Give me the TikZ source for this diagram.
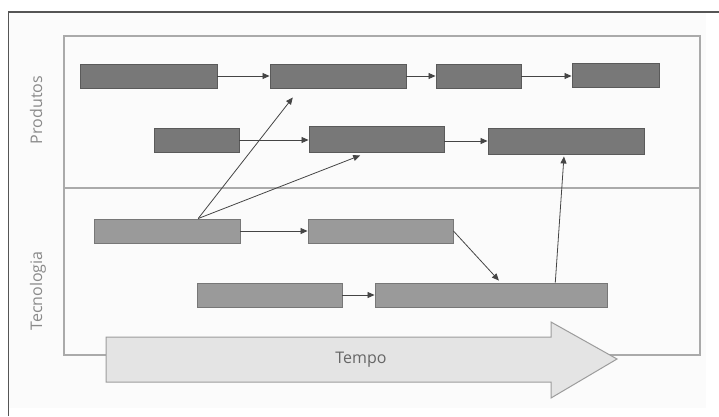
\documentclass[tikz,border=0pt]{standalone}
\usepackage{fontspec}
\setmainfont{Open Sans}
\usetikzlibrary{arrows.meta,calc}

\definecolor{framecol}{HTML}{555555}
\definecolor{panelline}{HTML}{AAAAAA}
\definecolor{panelbg}{HTML}{FBFBFB}
\definecolor{prodfill}{HTML}{787878}
\definecolor{prodline}{HTML}{5A5A5A}
\definecolor{techfill}{HTML}{9A9A9A}
\definecolor{techline}{HTML}{777777}
\definecolor{linkcol}{HTML}{454545}
\definecolor{timefill}{HTML}{E4E4E4}
\definecolor{timeline}{HTML}{9C9C9C}
\definecolor{timetext}{HTML}{666666}
\definecolor{labelcol}{HTML}{8A8A8A}

\tikzset{
  pbox/.style={rectangle, draw=prodline, fill=prodfill, line width=0.9pt,
               inner sep=0pt, minimum height=24pt},
  tbox/.style={rectangle, draw=techline, fill=techfill, line width=0.9pt,
               inner sep=0pt, minimum height=24pt},
  link/.style={draw=linkcol, line width=0.8pt,
               -{Triangle[length=7pt,width=6pt]}},
  lanelabel/.style={text=labelcol, font=\fontsize{16pt}{18pt}\selectfont,
                    rotate=90, anchor=base, inner sep=0pt},
}

\begin{document}
\begin{tikzpicture}[x=1pt,y=-1pt]
  \useasboundingbox (0,0) rectangle (719,416);
  \fill[white] (0,0) rectangle (719,416);
  \fill[panelbg] (9,13) rectangle (706,408);

  % outer frame (left and top edges)
  \draw[framecol, line width=1.3pt] (8.5,416) -- (8.5,12) -- (719,12);

  % swim-lane panel and divider
  \draw[panelline, line width=1.6pt] (64,36) rectangle (700,355);
  \draw[panelline, line width=1.2pt] (64,188) -- (700,188);

  % lane labels
  \node[lanelabel] (lprod) at (42,110) {Produtos};
  \node[lanelabel] (ltech) at (42,291) {Tecnologia};

  % time arrow
  \draw[timeline, fill=timefill, line width=1pt]
    (106,337) -- (551,337) -- (551,322) -- (617,359) -- (551,398)
    -- (551,382) -- (106,382) -- cycle;
  \node[text=timetext, font=\fontsize{16pt}{18pt}\selectfont,
        anchor=base, inner sep=0pt] (tempo) at (361,363) {Tempo};

  % product row 1
  \node[pbox, minimum width=137pt] (p1) at (148.5,76) {};
  \node[pbox, minimum width=136pt] (p2) at (338,76) {};
  \node[pbox, minimum width=85pt]  (p3) at (478.5,76) {};
  \node[pbox, minimum width=87pt]  (p4) at (615.5,75) {};
  % product row 2
  \node[pbox, minimum width=85pt]  (q1) at (196.5,140) {};
  \node[pbox, minimum width=135pt, minimum height=26pt] (q2) at (376.5,139) {};
  \node[pbox, minimum width=156pt, minimum height=26pt] (q3) at (566,141) {};
  % technology rows
  \node[tbox, minimum width=146pt] (t1) at (167,231) {};
  \node[tbox, minimum width=145pt] (t2) at (380.5,231) {};
  \node[tbox, minimum width=145pt] (u1) at (269.5,295) {};
  \node[tbox, minimum width=232pt] (u2) at (491,295) {};

  % sequence links
  \draw[link] (p1.east) -- (p2.west);
  \draw[link] (p2.east) -- (p3.west);
  \draw[link] (p3.east) -- (p4.west |- p3.east);
  \draw[link] (q1.east) -- (q2.west |- q1.east);
  \draw[link] (q2.east |- q3.west) -- (q3.west);
  \draw[link] (t1.east) -- (t2.west);
  \draw[link] (u1.east) -- (u2.west);

  % cross-lane links
  \coordinate (t1top) at ($(t1.north west)!0.712!(t1.north east)$);
  \coordinate (u2top) at ($(u2.north west)!0.776!(u2.north east)$);
  \draw[link] (t1top) -- ($(p2.south west)!0.17!(p2.south east)+(0,9)$);
  \draw[link] (t1top) -- ($(q2.south west)!0.38!(q2.south east)+(0,3)$);
  \draw[link] (t2.east) -- ($(u2.north west)!0.534!(u2.north east)+(0,-2)$);
  \draw[link] (u2top) -- ($(q3.south west)!0.487!(q3.south east)+(0,2)$);
\end{tikzpicture}
\end{document}
